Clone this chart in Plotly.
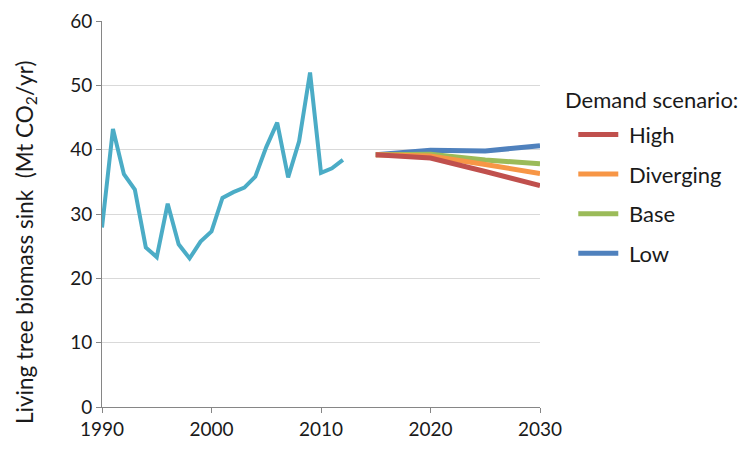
import plotly.graph_objects as go

hist_years = list(range(1990, 2013))
hist_values = [27.9, 43.2, 36.2, 33.8, 24.8, 23.3, 31.6, 25.3, 23.1, 25.7, 27.3, 32.5,
               33.4, 34.1, 35.8, 40.4, 44.2, 35.7, 41.3, 52.0, 36.4, 37.1, 38.4]

scen_years = [2015, 2020, 2025, 2030]
scen_names = ["High", "Diverging", "Base", "Low"]
scen_values = {
    "High":      [39.2, 38.7, 36.6, 34.4],
    "Diverging": [39.2, 39.0, 37.7, 36.3],
    "Base":      [39.2, 39.3, 38.4, 37.8],
    "Low":       [39.2, 39.9, 39.8, 40.6],
}
scen_colors = {"High": "#C0504D", "Diverging": "#F79646", "Base": "#9BBB59", "Low": "#4F81BD"}

font = "Lato, Carlito, Calibri, sans-serif"

fig = go.Figure()
fig.add_trace(go.Scatter(x=hist_years, y=hist_values, mode="lines",
                         line=dict(color="#4BACC6", width=4), showlegend=False))
# draw Low first so High is on top; legend ordered High..Low
for rank, name in reversed(list(enumerate(scen_names))):
    fig.add_trace(go.Scatter(x=scen_years, y=scen_values[name], mode="lines",
                             name="\u00a0" + name,
                             legendgroup=name, legendrank=rank + 1,
                             line=dict(color=scen_colors[name], width=5)))

fig.update_layout(
    width=748, height=449,
    margin=dict(l=94, r=216, t=13, b=50, autoexpand=False),
    plot_bgcolor="white", paper_bgcolor="white",
    font=dict(family=font, size=19, color="#1a1a1a"),
    showlegend=True,
    legend=dict(x=1.076, y=0.760, xanchor="left", yanchor="top",
                traceorder="grouped", tracegroupgap=8,
                font=dict(family=font, size=22), itemwidth=40),
    annotations=[
        dict(text="Demand scenario:", xref="paper", yref="paper",
             x=1.053, y=0.796, xanchor="left", yanchor="middle",
             showarrow=False, font=dict(family=font, size=22)),
        dict(text="Living tree biomass sink  (Mt CO<sub>2</sub>/yr)", xref="paper", yref="paper",
             x=-0.174, y=0.427, xanchor="center", yanchor="middle", textangle=-90,
             showarrow=False, font=dict(family=font, size=22.5, color="#1a1a1a")),
    ],
    xaxis=dict(range=[1990, 2030], dtick=10, tick0=1990, showgrid=False,
               showline=True, linecolor="#868686", linewidth=1, automargin=False,
               ticks="outside", ticklen=5, tickcolor="#868686", zeroline=False,
               tickfont=dict(family=font, size=19)),
    yaxis=dict(range=[0, 60], dtick=10, showgrid=True, gridcolor="#D9D9D9", gridwidth=1,
               showline=True, linecolor="#868686", linewidth=1, automargin=False,
               ticks="outside", ticklen=5, tickcolor="#868686", zeroline=False,
               tickfont=dict(family=font, size=19)),
)
fig.write_html("out.html")
